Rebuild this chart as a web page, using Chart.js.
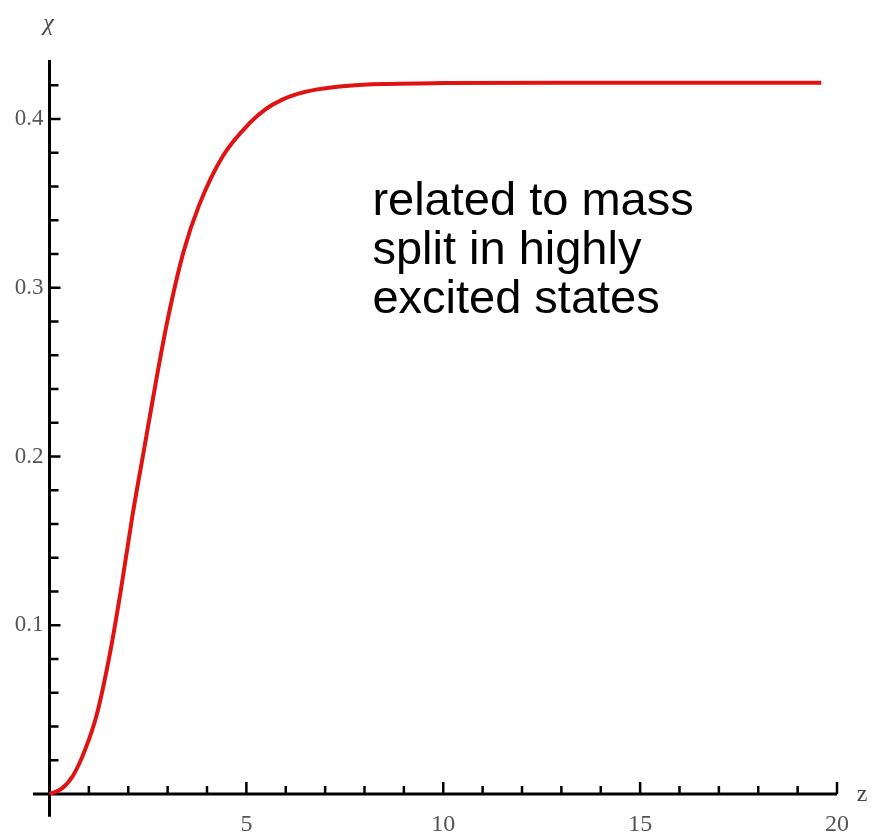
<!DOCTYPE html>
<html>
<head>
<meta charset="utf-8">
<script src="https://cdn.jsdelivr.net/npm/chart.js@4/dist/chart.umd.min.js"></script>
<style>
  html, body { margin: 0; padding: 0; background: #fff; }
  #wrap { width: 876px; height: 839px; }
</style>
</head>
<body>
<div id="wrap"><canvas id="chiChart"></canvas></div>
<script>
// chi(z)
const zValues = [0, 0.3, 0.6, 0.9, 1.2, 1.5, 1.8, 2.1, 2.4, 2.7, 3.0, 3.4, 3.8, 4.4, 5.1, 5.5, 5.9, 6.3, 6.8, 7.6, 8.5, 10, 13, 16, 19.6];
const chiValues = [0, 0.003, 0.011, 0.026, 0.047, 0.079, 0.119, 0.164, 0.204, 0.244, 0.281, 0.321, 0.349, 0.378, 0.398, 0.4061, 0.4114, 0.4149, 0.4176, 0.4198, 0.4208, 0.4213, 0.4215, 0.4215, 0.4215];

const xTickLabels = [5, 10, 15, 20];
const yTickLabels = [0.1, 0.2, 0.3, 0.4];
const xMinorTicks = [1, 2, 3, 4, 6, 7, 8, 9, 11, 12, 13, 14, 16, 17, 18, 19];
const yMinorTicks = [0.02, 0.04, 0.06, 0.08, 0.12, 0.14, 0.16, 0.18, 0.22, 0.24, 0.26, 0.28, 0.32, 0.34, 0.36, 0.38, 0.42];

const noteLines = ['related to mass', 'split in highly', 'excited states'];

const points = zValues.map((z, i) => ({ x: z, y: chiValues[i] }));

// axes crossing at the origin, ticks pointing inward
const crossAxes = {
  id: 'crossAxes',
  beforeDatasetsDraw(chart) {
    const { ctx } = chart;
    const xs = chart.scales.x, ys = chart.scales.y;
    const x0 = xs.getPixelForValue(0), y0 = ys.getPixelForValue(0);
    ctx.save();
    ctx.strokeStyle = '#000';
    ctx.lineCap = 'butt';
    ctx.lineWidth = 3;
    ctx.beginPath();
    ctx.moveTo(xs.getPixelForValue(-0.42), y0);
    ctx.lineTo(xs.getPixelForValue(20), y0);
    ctx.moveTo(x0, ys.getPixelForValue(-0.0135));
    ctx.lineTo(x0, ys.getPixelForValue(0.435));
    ctx.stroke();

    ctx.lineWidth = 2.5;
    ctx.beginPath();
    xTickLabels.forEach(v => {
      const px = xs.getPixelForValue(v);
      ctx.moveTo(px, y0); ctx.lineTo(px, y0 - 12);
    });
    xMinorTicks.forEach(v => {
      const px = xs.getPixelForValue(v);
      ctx.moveTo(px, y0); ctx.lineTo(px, y0 - 8);
    });
    yTickLabels.forEach(v => {
      const py = ys.getPixelForValue(v);
      ctx.moveTo(x0, py); ctx.lineTo(x0 + 11, py);
    });
    yMinorTicks.forEach(v => {
      const py = ys.getPixelForValue(v);
      ctx.moveTo(x0, py); ctx.lineTo(x0 + 9, py);
    });
    ctx.stroke();

    // axis names
    ctx.fillStyle = '#444';
    ctx.textAlign = 'center';
    ctx.textBaseline = 'middle';
    ctx.font = 'italic 24px "Liberation Serif", serif';
    ctx.fillText('χ', x0 - 1, ys.getPixelForValue(0.435) - 36);
    ctx.font = '24px "Liberation Serif", serif';
    ctx.fillText('z', xs.getPixelForValue(20) + 25, y0 + 1);
    ctx.restore();
  },
  afterDraw(chart) {
    const { ctx } = chart;
    const xs = chart.scales.x, ys = chart.scales.y;
    ctx.save();
    ctx.fillStyle = '#000';
    ctx.font = '47px "Liberation Sans", Arial, sans-serif';
    ctx.textAlign = 'left';
    ctx.textBaseline = 'alphabetic';
    const nx = xs.getPixelForValue(8.2), ny = ys.getPixelForValue(0.343);
    noteLines.forEach((t, i) => ctx.fillText(t, nx, ny + i * 49));
    ctx.restore();
  }
};

const ctx = document.getElementById('chiChart').getContext('2d');
const chart = new Chart(ctx, {
  type: 'line',
  data: {
    datasets: [{
      data: points,
      borderColor: 'rgb(224, 18, 18)',
      borderWidth: 4,
      pointRadius: 0,
      fill: false,
      cubicInterpolationMode: 'monotone',
      clip: false,
    }],
  },
  options: {
    responsive: true,
    maintainAspectRatio: false,
    animation: false,
    layout: { padding: { top: 60, right: 39, left: 0, bottom: 0 } },
    plugins: { legend: { display: false }, tooltip: { enabled: false } },
    scales: {
      x: {
        type: 'linear',
        min: 0,
        max: 20,
        grid: { display: false, drawTicks: false },
        border: { display: false },
        afterBuildTicks: s => { s.ticks = xTickLabels.map(v => ({ value: v })); },
        afterFit: s => { s.height = 45; },
        ticks: {
          padding: 16,
          color: '#555',
          font: { family: '"Liberation Serif", serif', size: 24 },
          maxRotation: 0,
        },
      },
      y: {
        type: 'linear',
        min: 0,
        max: 0.435,
        grid: { display: false, drawTicks: false },
        border: { display: false },
        afterBuildTicks: s => { s.ticks = yTickLabels.map(v => ({ value: v })); },
        afterFit: s => { s.width = 49.5; },
        ticks: {
          padding: 6,
          color: '#555',
          font: { family: '"Liberation Serif", serif', size: 23 },
          callback: v => v.toFixed(1),
        },
      },
    },
  },
  plugins: [crossAxes],
});
</script>
</body>
</html>
